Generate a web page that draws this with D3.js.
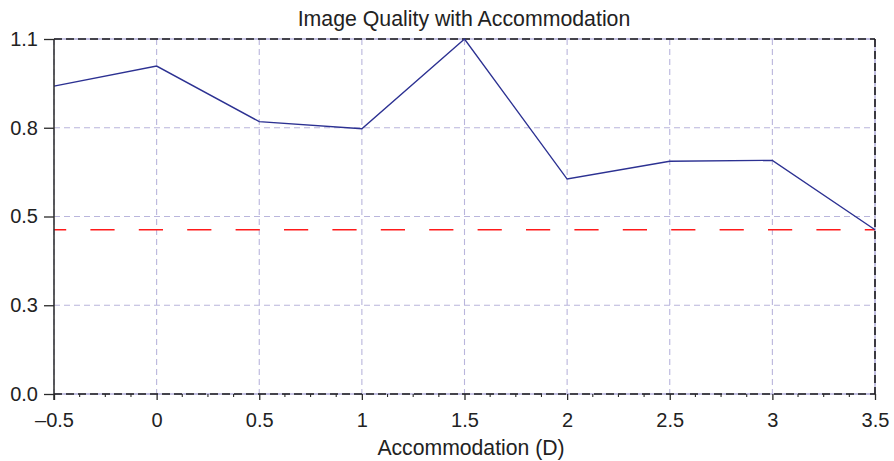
<!DOCTYPE html>
<html>
<head>
<meta charset="utf-8">
<script src="https://cdn.jsdelivr.net/npm/d3@7"></script>
<style>
  html, body { margin: 0; padding: 0; background: #fff; }
  svg { display: block; font-family: "Liberation Sans", Arial, Helvetica, sans-serif; }
</style>
</head>
<body>
<svg id="chart" width="894" height="461"></svg>
<script>
// ---- data ----
const accommodation = [-0.5, 0, 0.5, 1, 1.5, 2, 2.5, 3, 3.5];
const quality = [0.954, 1.016, 0.844, 0.822, 1.1, 0.666, 0.721, 0.724, 0.509];
const threshold = 0.509;
const xTickValues = [-0.5, 0, 0.5, 1, 1.5, 2, 2.5, 3, 3.5];
const xTickLabels = ["\u20130.5", "0", "0.5", "1", "1.5", "2", "2.5", "3", "3.5"];
const xMinorTicks = [-0.375, -0.25, -0.125, 0.125, 0.25, 0.375, 0.625, 0.75, 0.875,
  1.125, 1.25, 1.375, 1.625, 1.75, 1.875, 2.125, 2.25, 2.375, 2.625, 2.75, 2.875,
  3.125, 3.25, 3.375];
const yTickValues = [0, 0.275, 0.55, 0.825, 1.1];
const yTickLabels = ["0.0", "0.3", "0.5", "0.8", "1.1"];
const titleText = "Image Quality with Accommodation";
const xLabelText = "Accommodation (D)";

// ---- layout ----
const svg = d3.select("#chart");
const L = 54, R = 875, T = 39, B = 394;
const x = d3.scaleLinear().domain([-0.5, 3.5]).range([L, R]);
const y = d3.scaleLinear().domain([0, 1.1]).range([B, T]);

const gridColor = "#b9b5dc";
const axisColor = "#2a2a2a";

// grid
const grid = svg.append("g");
grid.selectAll("line.vg").data(xTickValues).join("line")
  .attr("x1", d => x(d)).attr("x2", d => x(d))
  .attr("y1", T).attr("y2", B)
  .attr("stroke", gridColor).attr("stroke-width", 1.1)
  .attr("stroke-dasharray", "6,4");
grid.selectAll("line.hg").data(yTickValues).join("line")
  .attr("x1", L).attr("x2", R)
  .attr("y1", d => y(d)).attr("y2", d => y(d))
  .attr("stroke", gridColor).attr("stroke-width", 1.1)
  .attr("stroke-dasharray", "6,4");

// frame: lavender underlay + black dashes on top, right, bottom
const frame = svg.append("g");
const frameSegs = [
  [L, T, R, T],
  [R, T, R, B],
  [L, B, R, B]
];
frame.selectAll("line.under").data(frameSegs).join("line")
  .attr("x1", d => d[0]).attr("y1", d => d[1]).attr("x2", d => d[2]).attr("y2", d => d[3])
  .attr("stroke", gridColor).attr("stroke-width", 1.5);
frame.selectAll("line.over").data(frameSegs).join("line")
  .attr("x1", d => d[0]).attr("y1", d => d[1]).attr("x2", d => d[2]).attr("y2", d => d[3])
  .attr("stroke", "#1a1a1a").attr("stroke-width", 1.6)
  .attr("stroke-dasharray", "8,4");

// threshold line
svg.append("line")
  .attr("x1", x(-0.5)).attr("x2", x(3.5))
  .attr("y1", y(threshold)).attr("y2", y(threshold))
  .attr("stroke", "#ff1a1a").attr("stroke-width", 1.4)
  .attr("stroke-dasharray", "24.2,24.2").attr("stroke-dashoffset", 12);

// data line
const line = d3.line().x((d, i) => x(accommodation[i])).y(d => y(d));
svg.append("path").datum(quality)
  .attr("d", line)
  .attr("fill", "none")
  .attr("stroke", "#2c3192").attr("stroke-width", 1.4)
  .attr("stroke-linejoin", "miter");

// x axis
const xAxis = d3.axisBottom(x).tickValues(xTickValues)
  .tickFormat((d, i) => xTickLabels[i]).tickSize(6).tickPadding(13);
const gx = svg.append("g").attr("transform", `translate(0,${B})`).call(xAxis);
gx.select(".domain").remove();
gx.selectAll(".tick line").attr("stroke", axisColor).attr("stroke-width", 1.3);
gx.selectAll(".tick text").attr("fill", "#222").style("font-size", "20px")
  .style("font-family", "'Liberation Sans', Arial, sans-serif");
// minor ticks
svg.append("g").selectAll("line").data(xMinorTicks).join("line")
  .attr("x1", d => x(d)).attr("x2", d => x(d))
  .attr("y1", B).attr("y2", B + 3)
  .attr("stroke", axisColor).attr("stroke-width", 1.1);

// y axis
const yAxis = d3.axisLeft(y).tickValues(yTickValues)
  .tickFormat((d, i) => yTickLabels[i]).tickSize(10).tickPadding(6);
const gy = svg.append("g").attr("transform", `translate(${L},0)`).call(yAxis);
gy.select(".domain").remove();
gy.selectAll(".tick line").attr("stroke", axisColor).attr("stroke-width", 1.3);
gy.selectAll(".tick text").attr("fill", "#222").style("font-size", "20px")
  .style("font-family", "'Liberation Sans', Arial, sans-serif");
svg.append("line")
  .attr("x1", L).attr("x2", L).attr("y1", T).attr("y2", B + 6)
  .attr("stroke", axisColor).attr("stroke-width", 1.5);

// title
svg.append("text")
  .attr("x", 464).attr("y", 26)
  .attr("text-anchor", "middle")
  .attr("fill", "#222").style("font-size", "21.3px")
  .text(titleText);

// x label
svg.append("text")
  .attr("x", 471).attr("y", 455)
  .attr("text-anchor", "middle")
  .attr("fill", "#222").style("font-size", "21.2px")
  .text(xLabelText);
</script>
</body>
</html>
